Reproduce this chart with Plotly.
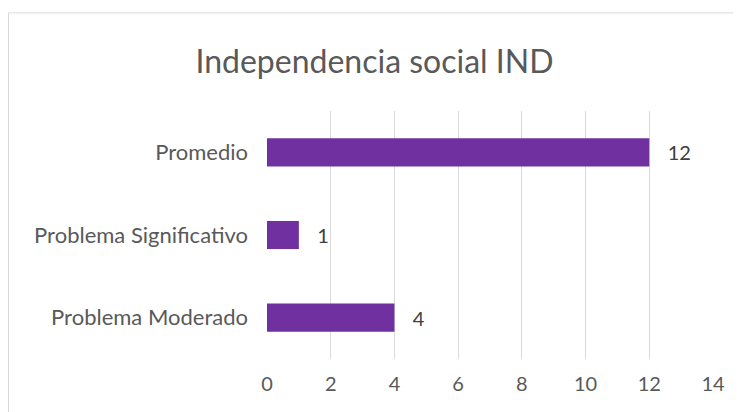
import plotly.graph_objects as go

categories = ["Problema Moderado", "Problema Significativo", "Promedio"]
values = [4, 1, 12]
x_ticks = [0, 2, 4, 6, 8, 10, 12, 14]
title_text = "Independencia social IND"

# page body has an 8px margin; figure coordinates below are relative to the figure
W, H = 733, 404
L, R, T, B = 259, 28, 102.5, 52.5
pw, ph = W - L - R, H - T - B

def px_x(p):
    return (p - L) / pw

def px_y(p):
    return 1 - (p - T) / ph

FONT = "Lato, Liberation Sans, sans-serif"

fig = go.Figure(go.Bar(
    y=categories, x=values, orientation="h",
    marker=dict(color="#7030A0", line=dict(width=0)),
    width=0.34,
    texttemplate="\u00a0\u00a0\u00a0%{x}", textposition="outside",
    textfont=dict(color="#404040", size=20, family=FONT),
    cliponaxis=False,
))

fig.update_layout(
    width=W, height=H,
    margin=dict(l=L, r=R, t=T, b=B, autoexpand=False),
    paper_bgcolor="white", plot_bgcolor="white",
    font=dict(family=FONT, color="#595959", size=20),
    title=dict(text=title_text, x=0.5, xanchor="center", y=1 - 54 / H, yanchor="middle",
               font=dict(size=32, color="#595959")),
    showlegend=False,
    xaxis=dict(range=[0, 14], tickvals=x_ticks, showgrid=True, gridcolor="#D9D9D9", gridwidth=1,
               zeroline=False, showline=False, ticks="", ticklabelstandoff=11,
               tickfont=dict(size=20, color="#595959"), automargin=False),
    yaxis=dict(showgrid=False, zeroline=False, showline=False, ticks="",
               ticklabelstandoff=18, tickfont=dict(size=22, color="#595959"), automargin=False),
    shapes=[dict(type="rect", xref="paper", yref="paper",
                 x0=px_x(0.5), x1=px_x(760), y0=px_y(430), y1=px_y(4),
                 line=dict(color="#D9D9D9", width=1), fillcolor="rgba(0,0,0,0)", layer="below")],
)

fig.write_html("out.html")
